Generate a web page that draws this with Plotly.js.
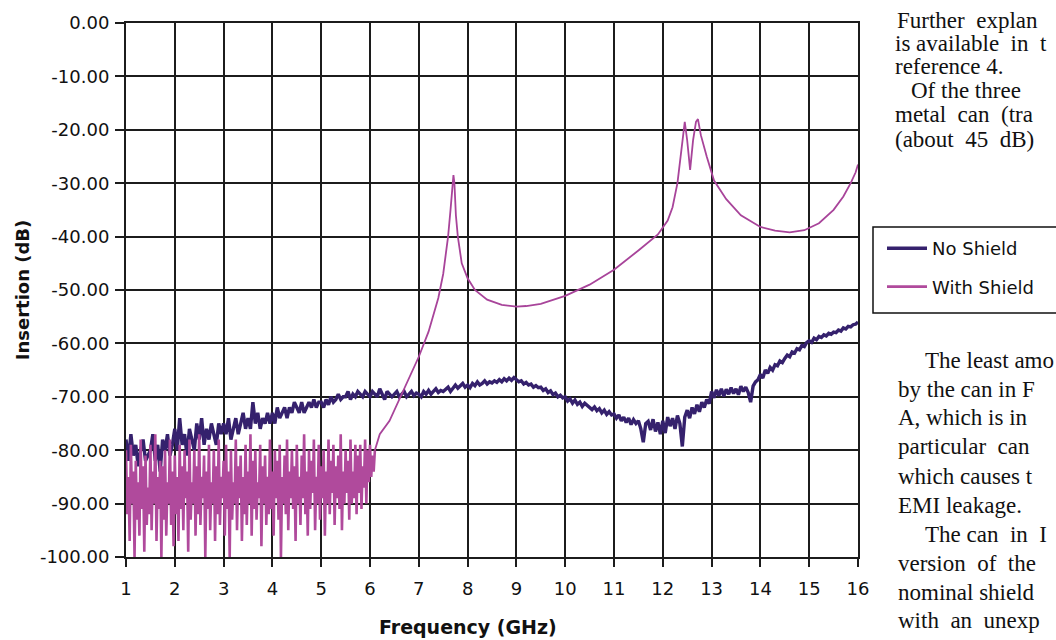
<!DOCTYPE html>
<html>
<head>
<meta charset="utf-8">
<script src="https://cdn.plot.ly/plotly-3.0.1.min.js"></script>
<style>
  html, body { margin: 0; padding: 0; background: #ffffff; }
  #chart { width: 1056px; height: 640px; }
</style>
</head>
<body>
<div id="chart"></div>
<script>
// ---------------- DATA ----------------
const xTickVals = [1, 2, 3, 4, 5, 6, 7, 8, 9, 10, 11, 12, 13, 14, 15, 16];
const yTickVals = [0, -10, -20, -30, -40, -50, -60, -70, -80, -90, -100];
const yTickText = ['0.00', '-10.00', '-20.00', '-30.00', '-40.00', '-50.00', '-60.00', '-70.00', '-80.00', '-90.00', '-100.00'];

// No Shield: sweep from 1 GHz in 0.05 GHz steps
const noShieldStartGHz = 1;
const noShieldStepGHz = 0.05;
const noShieldDb = [
  -78, -82, -77, -81, -79, -83, -80, -78, -82, -81,
  -80, -77, -82, -79, -84, -78, -80, -77, -81, -79,
  -76, -80, -74, -79, -77, -81, -76, -78, -80, -75,
  -78, -74, -79, -76, -78, -75, -77, -79, -75, -77,
  -75, -77, -74, -78, -76, -74, -77, -75, -73, -76,
  -74, -76, -71, -75, -73, -76, -74, -75, -73, -75,
  -73, -75, -72, -74, -73, -72, -74, -72, -73, -71,
  -72, -73, -71, -73, -72, -71, -72, -70.5, -72, -71,
  -71, -72, -70.5, -71.5, -70, -71, -70.5, -69.5, -70.5, -70,
  -70, -69, -70.5, -69.5, -70, -69, -69.5, -70, -69, -69.5,
  -70, -69, -69.5, -70, -68.5, -69.5, -70.5, -69, -69.5, -70,
  -69.5, -69, -70, -69.5, -69, -70, -69.5, -69, -69.8, -69.3,
  -69.5, -70, -69, -69.5, -68.8, -69.5, -69, -68.5, -69.2, -68.8,
  -69, -68.5, -68.2, -69, -68.5, -67.8, -68.4, -68, -67.5, -68.2,
  -67.8, -68.3, -67.5, -67.9, -67.2, -67.8, -67.5, -67, -67.6, -67.2,
  -67.4, -67, -67.3, -66.8, -67.2, -66.6, -67, -66.5, -66.9, -66.4,
  -66.8, -67.2, -67, -67.6, -67.3, -67.8, -67.6, -68.2, -67.9, -68.3,
  -68.2, -68.8, -68.5, -69.2, -68.9, -69.6, -69.3, -70, -69.7, -70.2,
  -70, -70.8, -70.4, -71.2, -70.6, -71.4, -71, -71.8, -71.2, -71.6,
  -71.8, -72.4, -71.9, -72.6, -72.2, -73, -72.5, -73.3, -72.8, -73.4,
  -73.2, -74, -73.4, -74.5, -73.8, -74.8, -74, -75.2, -74.3, -75,
  -74.5, -76, -78.5, -75, -74.6, -76.2, -74.2, -76.5, -74.8, -77,
  -74.5, -76.8, -73.8, -75.5, -74, -76, -73.5, -75, -79.3, -73.8,
  -72.5, -74, -72, -73.2, -71.5, -72.8, -71, -72, -70.5, -71.3,
  -69, -70.2, -68.7, -69.8, -68.5, -69.9, -68.6, -69.5, -68.3, -69.4,
  -68.5, -69.6, -68, -69, -68.2, -69.2, -71, -68, -67.2, -66.8,
  -65.8, -66.5, -65, -65.6, -64.5, -65, -64, -64.2, -63.3, -63.6,
  -62.8, -62.2, -62.5, -61.6, -61.8, -61, -61.2, -60.4, -60.6, -59.8,
  -59.5, -59.8, -59, -59.3, -58.7, -58.9, -58.4, -58.6, -58.1, -58.3,
  -57.9, -58, -57.5, -57.7, -57.1, -57.3, -56.8, -56.9, -56.5, -56.4,
  -56
];

// With Shield, noisy floor region: from 1 GHz in 0.025 GHz steps
const withShieldNoiseStartGHz = 1;
const withShieldNoiseStepGHz = 0.025;
const withShieldNoiseDb = [
  -80, -92, -85, -97, -79, -90, -84, -100, -82, -93,
  -86, -96, -78, -91, -83, -99, -81, -94, -87, -92,
  -79, -95, -84, -90, -77, -97, -85, -91, -82, -100,
  -83, -93, -80, -96, -86, -90, -78, -94, -84, -98,
  -81, -92, -85, -97, -79, -91, -83, -95, -80, -89,
  -84, -99, -78, -93, -86, -90, -80, -96, -83, -92,
  -77, -94, -85, -89, -81, -100, -84, -91, -79, -95,
  -86, -90, -80, -97, -83, -92, -78, -94, -85, -89,
  -82, -96, -79, -91, -84, -100, -80, -93, -86, -90,
  -78, -95, -83, -89, -81, -97, -85, -92, -79, -94,
  -84, -90, -77, -96, -82, -91, -80, -93, -86, -89,
  -79, -98, -83, -90, -81, -94, -85, -92, -78, -91,
  -84, -96, -80, -89, -82, -93, -79, -100, -85, -90,
  -81, -92, -78, -95, -84, -89, -80, -91, -83, -97,
  -79, -90, -85, -94, -81, -89, -77, -92, -84, -96,
  -80, -91, -82, -88, -78, -95, -85, -90, -79, -93,
  -83, -89, -80, -96, -84, -90, -78, -92, -82, -88,
  -79, -94, -83, -89, -81, -91, -77, -95, -84, -90,
  -80, -88, -82, -93, -78, -90, -84, -89, -79, -92,
  -81, -88, -79, -91, -83, -87, -78, -90, -80, -86,
  -79, -85, -81, -84, -80
];

// With Shield, resonance region (explicit frequencies)
const withShieldFreq = [6.10, 6.2, 6.4, 6.6, 6.8, 7.0, 7.2, 7.4, 7.5, 7.6, 7.65, 7.69, 7.71, 7.73, 7.76, 7.8, 7.88, 8.0, 8.15, 8.4, 8.7, 9.0, 9.2, 9.5, 10.0, 10.5, 11.0, 11.5, 11.9, 12.1, 12.2, 12.3, 12.4, 12.45, 12.5, 12.56, 12.62, 12.68, 12.72, 12.78, 12.9, 13.05, 13.3, 13.6, 14.0, 14.3, 14.6, 14.9, 15.2, 15.5, 15.7, 15.85, 15.95, 16.0];
const withShieldDb   = [-80, -77, -74.5, -70.5, -66.5, -62.5, -57.8, -51.5, -47, -40, -35, -30, -28.5, -30, -36, -40, -45, -47.8, -50, -51.8, -52.8, -53.1, -53.0, -52.6, -51.1, -49.0, -46.2, -42.6, -39.6, -37, -34.5, -30, -23, -18.5, -22, -27.5, -22, -18.5, -18, -21, -25, -29.5, -33, -36, -38.2, -38.9, -39.2, -38.8, -37.5, -35, -32.5, -30, -28, -26.5];

const seriesNames = ['No Shield', 'With Shield'];
const xTitle = 'Frequency (GHz)';
const yTitle = 'Insertion (dB)';

// ---------------- STYLE ----------------
const navy = '#35216d';
const pink = '#b04a9c';
const gridCol = '#1c1c1c';
const L = 126, R = 198, T = 23, B = 83, W = 1056, H = 640;
const plotW = W - L - R, plotH = H - T - B;
const px2paperX = p => (p - L) / plotW;
const px2paperY = p => (H - B - p) / plotH;

const traces = [
  {
    type: 'scatter', mode: 'lines', name: seriesNames[0],
    x0: noShieldStartGHz, dx: noShieldStepGHz, y: noShieldDb,
    line: { color: navy, width: 3.4 }, legendgroup: 'a'
  },
  {
    type: 'scatter', mode: 'lines', name: seriesNames[1],
    x0: withShieldNoiseStartGHz, dx: withShieldNoiseStepGHz, y: withShieldNoiseDb,
    line: { color: pink, width: 2.6 }, legendgroup: 'b'
  },
  {
    type: 'scatter', mode: 'lines', name: seriesNames[1], showlegend: false,
    x: withShieldFreq, y: withShieldDb,
    line: { color: '#a8449a', width: 1.8 }, legendgroup: 'b'
  }
];

const serif = { family: 'Liberation Serif, Times New Roman, serif', size: 23, color: '#111' };
const nb = '\u00A0';
const textLines = [
  ['Further' + nb + nb + 'explan', 895, 20],
  ['is' + nb + 'available' + nb + nb + 'in' + nb + nb + 't', 893, 44],
  ['reference 4.', 893, 67],
  ['Of the three', 909, 91],
  ['metal' + nb + nb + 'can' + nb + nb + '(tra', 893, 115],
  ['(about' + nb + nb + '45' + nb + nb + 'dB)', 893, 139],
  ['The least amo', 923, 360],
  ['by the can in F', 896, 389],
  ['A, which is in', 896, 418],
  ['particular' + nb + nb + 'can', 896, 447],
  ['which causes t', 896, 476],
  ['EMI leakage.', 896, 505],
  ['The' + nb + 'can' + nb + nb + 'in' + nb + nb + 'I', 923, 534],
  ['version' + nb + nb + 'of' + nb + nb + 'the', 896, 563],
  ['nominal shield', 896, 592],
  ['with' + nb + nb + 'an' + nb + nb + 'unexp', 896, 620]
];

const annotations = textLines.map(([t, xpx, ypx]) => ({
  text: t, xref: 'paper', yref: 'paper',
  x: px2paperX(xpx), y: px2paperY(ypx),
  xanchor: 'left', yanchor: 'middle', showarrow: false, font: serif
}));

const sansFont = 'DejaVu Sans, Verdana, sans-serif';

// x-axis title placed as in the reference (slightly left of the plot centre)
annotations.push({
  text: '<b>' + xTitle + '</b>', xref: 'paper', yref: 'paper',
  x: px2paperX(468), y: px2paperY(627), xanchor: 'center', yanchor: 'middle',
  showarrow: false, font: { family: sansFont, size: 19, color: '#111' }
});

const layout = {
  width: W, height: H,
  margin: { l: L, r: R, t: T, b: B, pad: 0 },
  paper_bgcolor: '#ffffff', plot_bgcolor: '#ffffff',
  showlegend: true,
  legend: {
    x: px2paperX(882), y: px2paperY(230), xanchor: 'left', yanchor: 'top',
    bgcolor: 'rgba(255,255,255,0)', borderwidth: 0,
    font: { family: sansFont, size: 18, color: '#111' },
    tracegroupgap: 12, itemwidth: 40, traceorder: 'grouped'
  },
  xaxis: {
    range: [1, 16], tickvals: xTickVals, ticktext: xTickVals.map(String),
    showgrid: true, gridcolor: gridCol, gridwidth: 2,
    showline: true, linecolor: gridCol, linewidth: 2, mirror: true,
    ticks: 'outside', ticklen: 8, tickwidth: 2, tickcolor: gridCol,
    tickfont: { family: sansFont, size: 18, color: '#111' },
    ticklabelstandoff: 6, zeroline: false
  },
  yaxis: {
    range: [-100, 0], tickvals: yTickVals, ticktext: yTickText,
    showgrid: true, gridcolor: gridCol, gridwidth: 2,
    showline: true, linecolor: gridCol, linewidth: 2, mirror: true,
    ticks: 'outside', ticklen: 9, tickwidth: 2, tickcolor: gridCol,
    tickfont: { family: sansFont, size: 18, color: '#111' },
    ticklabelstandoff: 2, zeroline: false,
    title: { text: yTitle, standoff: 6, font: { family: sansFont, size: 18, color: '#111', weight: 'bold' } }
  },
  shapes: [{
    type: 'rect', xref: 'paper', yref: 'paper',
    x0: px2paperX(873), x1: px2paperX(1080),
    y0: px2paperY(313), y1: px2paperY(227),
    line: { color: '#111', width: 1.5 }, fillcolor: 'rgba(0,0,0,0)'
  }],
  annotations: annotations
};

Plotly.newPlot('chart', traces, layout, { staticPlot: true, displayModeBar: false });
</script>
</body>
</html>
